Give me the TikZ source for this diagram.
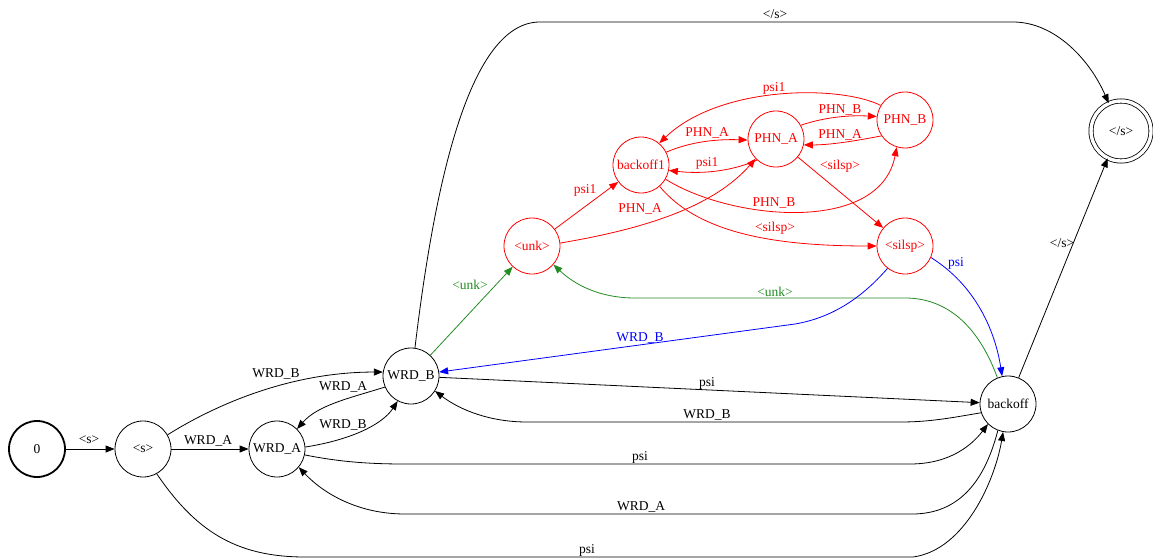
\documentclass[tikz,border=0pt]{standalone}
\usepackage{fontspec}
\setmainfont{Liberation Serif}
\usetikzlibrary{arrows.meta}
\definecolor{fsmgreen}{RGB}{34,139,34}
\definecolor{fsmred}{RGB}{255,0,0}
\definecolor{fsmblue}{RGB}{0,0,255}
\newcommand{\lt}{\textless}
\newcommand{\gt}{\textgreater}
\begin{document}
\begin{tikzpicture}[x=1pt,y=-1pt,
  every node/.style={font=\fontsize{13.5}{16}\selectfont},
  state/.style={circle,draw,line width=0.8pt,minimum size=56pt,inner sep=0pt},
  phone/.style={state,draw=fsmred,text=fsmred},
  lab/.style={inner sep=0pt},
  edge/.style={line width=0.8pt,-{Triangle[length=9pt,width=7pt]}},
]
\useasboundingbox (0,0) rectangle (1153,559);

% states
\node[state,line width=1.8pt] (n0)  at (37,449)  {0};
\node[state] (ns)   at (143,449) {\lt s\gt};
\node[state] (nwa)  at (277,449) {WRD\_A};
\node[state] (nwb)  at (411,376) {WRD\_B};
\node[state] (nbo)  at (1008,404) {backoff};
\node[state,minimum size=60pt,double,double distance=3.4pt] (nend) at (1121,131) {\lt/s\gt};
\node[phone] (nunk) at (532,246) {\lt unk\gt};
\node[phone] (nbk1) at (641,165) {backoff1};
\node[phone] (npa)  at (776,139) {PHN\_A};
\node[phone] (npb)  at (905,120) {PHN\_B};
\node[phone] (nsil) at (905,246) {\lt silsp\gt};

% word-level transitions
\draw[edge] (n0) -- (ns);
\node[lab] (l1) at (89,440) {\lt s\gt};
\draw[edge] (ns) -- (nwa);
\node[lab] (l2) at (208,441) {WRD\_A};
\draw[edge] (ns.30) .. controls (215,405) and (290,372) .. (nwb.172);
\node[lab] (l3) at (276,374) {WRD\_B};
\draw[edge] (ns.299) .. controls (195,530) and (235,557) .. (305,557)
  -- (913,557) .. controls (965,550) and (995,480) .. (nbo.260);
\node[lab] (l4) at (587,550) {psi};
\draw[edge] (nwa.4) .. controls (350,440) and (382,425) .. (nwb.242);
\node[lab] (l5) at (343,425) {WRD\_B};
\draw[edge] (nwb.203) .. controls (350,398) and (318,405) .. (nwa.45);
\node[lab] (l6) at (343,387) {WRD\_A};
\draw[edge] (nwa.348) .. controls (340,462) and (370,464) .. (405,464)
  -- (910,464) .. controls (950,464) and (972,445) .. (nbo.225);
\node[lab] (l7) at (640,457) {psi};
\draw[edge] (nbo.249) .. controls (985,480) and (960,514) .. (912,514)
  -- (405,514) .. controls (360,514) and (325,495) .. (nwa.320);
\node[lab] (l8) at (641,507) {WRD\_A};
\draw[edge] (nwb) -- (nbo);
\node[lab] (l9) at (707,383) {psi};
\draw[edge] (nbo.198) .. controls (950,418) and (930,422) .. (900,422)
  -- (527,422) .. controls (490,422) and (460,410) .. (nwb.328);
\node[lab] (l10) at (707,415) {WRD\_B};
\draw[edge] (nwb.82) .. controls (435,180) and (470,22) .. (540,22)
  -- (1013,22) .. controls (1055,22) and (1090,60) .. (nend.114);
\node[lab] (l11) at (775,14) {\lt/s\gt};
\draw[edge] (nbo.68) -- (nend.244);
\node[lab] (l12) at (1062,243) {\lt/s\gt};

% entry into the phone loop
\draw[edge,fsmgreen] (nwb) -- (nunk);
\node[lab,text=fsmgreen] (l13) at (470,285) {\lt unk\gt};
\draw[edge,fsmgreen] (nbo.112) .. controls (980,330) and (950,298) .. (905,298)
  -- (635,298) .. controls (600,298) and (575,285) .. (nunk.319);
\node[lab,text=fsmgreen] (l14) at (775,292) {\lt unk\gt};
\draw[edge,fsmblue] (nsil.336) .. controls (975,285) and (995,330) .. (nbo.102);
\node[lab,text=fsmblue] (l15) at (956,263) {psi};
\draw[edge,fsmblue] (nsil.232) .. controls (860,300) and (830,318) .. (795,324)
  -- (nwb.8);
\node[lab,text=fsmblue] (l16) at (640,338) {WRD\_B};

% phone loop
\begin{scope}[fsmred]
\draw[edge] (nunk) -- (nbk1);
\node[lab,text=fsmred] (l17) at (585,190) {psi1};
\draw[edge] (nunk.6) .. controls (650,228) and (715,205) .. (npa.224);
\node[lab,text=fsmred] (l18) at (640,209) {PHN\_A};
\draw[edge] (nbk1.27) .. controls (690,142) and (715,139) .. (npa.182);
\node[lab,text=fsmred] (l19) at (707,133) {PHN\_A};
\draw[edge] (npa.228) .. controls (730,172) and (700,174) .. (nbk1.349);
\node[lab,text=fsmred] (l20) at (707,163) {psi1};
\draw[edge] (npa.29) .. controls (825,117) and (850,115) .. (npb.173);
\node[lab,text=fsmred] (l21) at (840,110) {PHN\_B};
\draw[edge] (npb.214) .. controls (855,141) and (830,145) .. (npa.348);
\node[lab,text=fsmred] (l22) at (840,135) {PHN\_A};
\draw[edge] (npb.149) .. controls (840,85) and (720,85) .. (nbk1.50);
\node[lab,text=fsmred] (l23) at (774,88) {psi1};
\draw[edge] (npa) -- (nsil);
\node[lab,text=fsmred] (l24) at (840,166) {\lt silsp\gt};
\draw[edge] (nbk1.330) .. controls (730,220) and (880,235) .. (npb.253);
\node[lab,text=fsmred] (l25) at (774,203) {PHN\_B};
\draw[edge] (nbk1.311) .. controls (700,235) and (780,246) .. (nsil.180);
\node[lab,text=fsmred] (l26) at (775,228) {\lt silsp\gt};
\end{scope}
\end{tikzpicture}
\end{document}
